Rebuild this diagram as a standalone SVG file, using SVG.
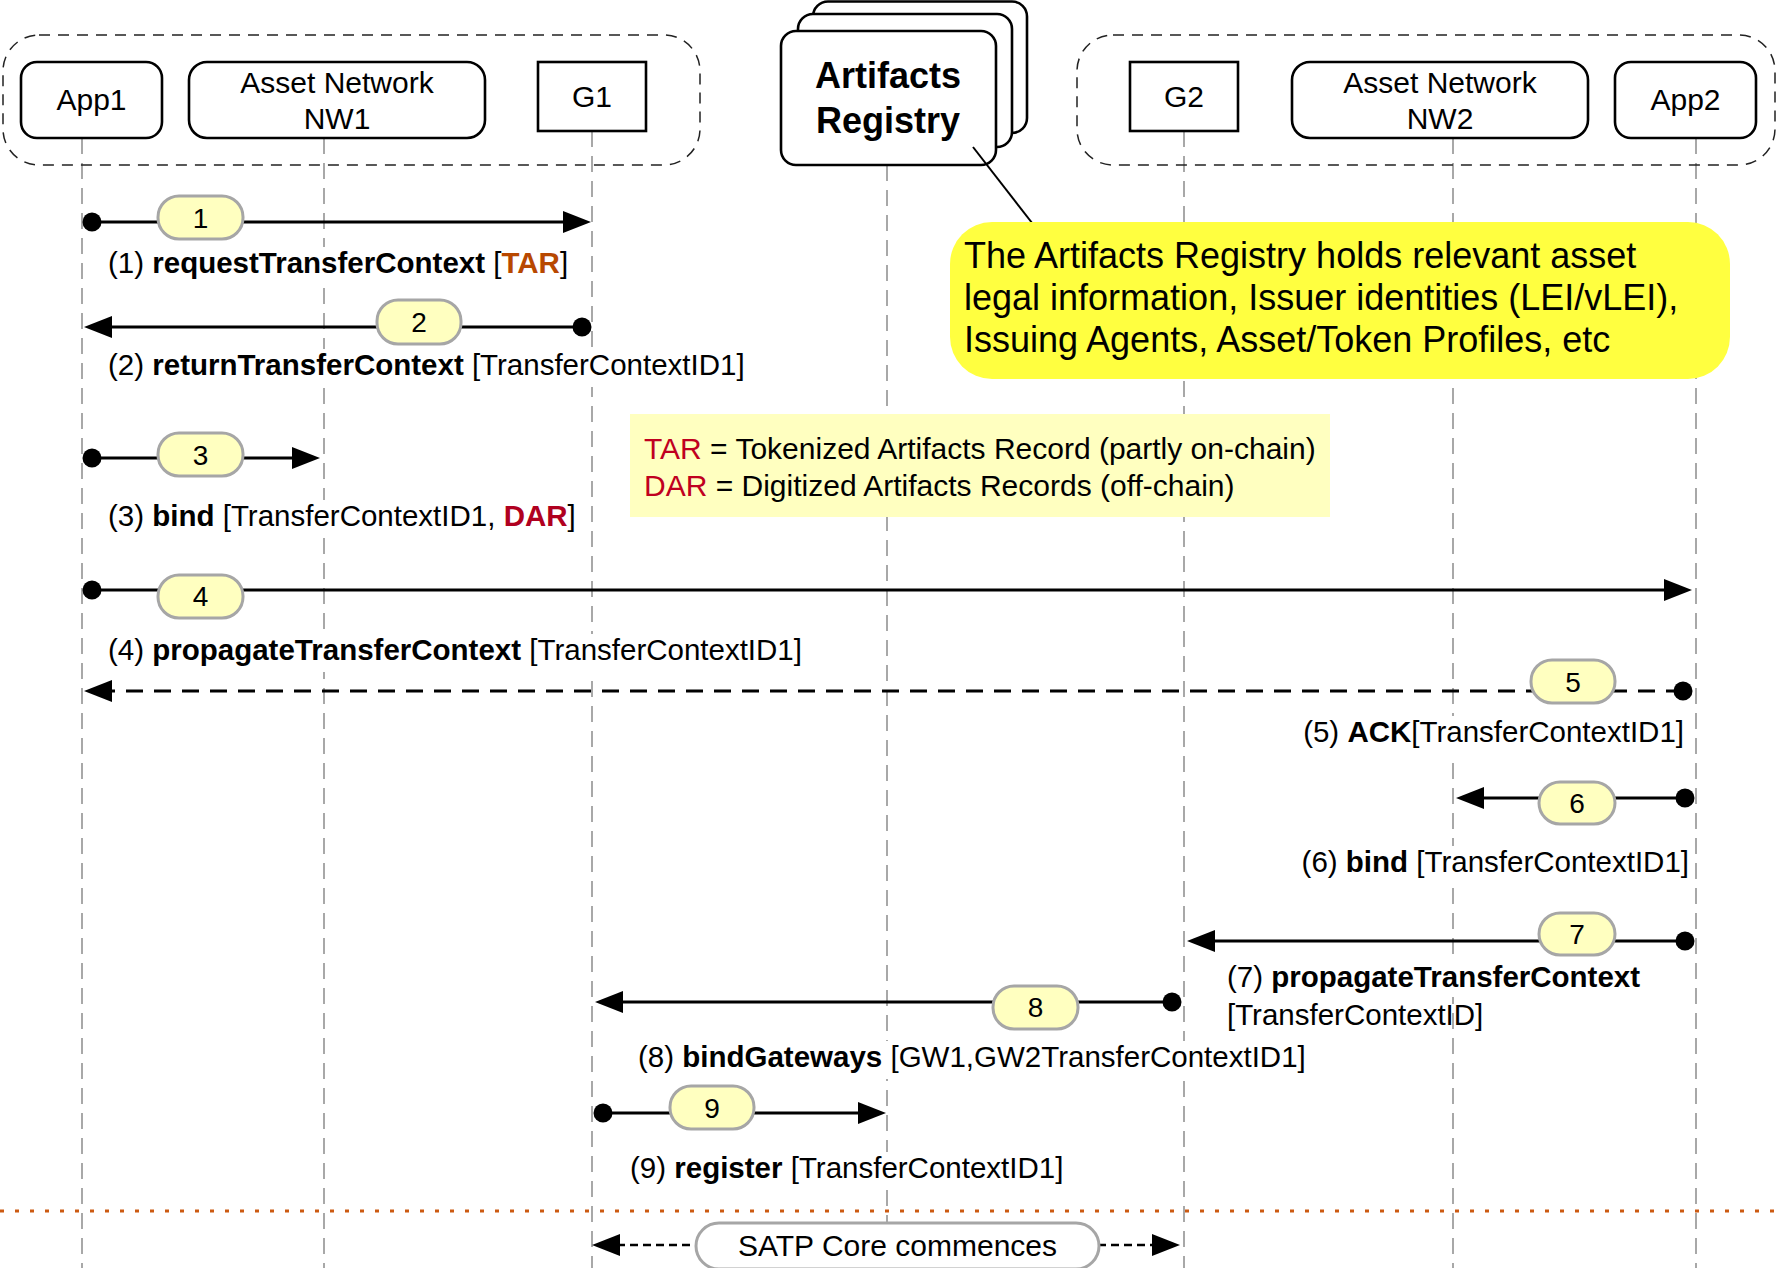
<svg xmlns="http://www.w3.org/2000/svg" width="1777" height="1268" viewBox="0 0 1777 1268">
<defs>
<style>
text{font-family:"Liberation Sans",Arial,Helvetica,sans-serif;fill:#000}
.life{stroke:#a8a8a8;stroke-width:2;stroke-dasharray:16 9;fill:none}
.grp{fill:none;stroke:#222;stroke-width:1.5;stroke-dasharray:11 8}
.node{fill:#fff;stroke:#000;stroke-width:2.6}
.nt{font-size:30px;text-anchor:middle}
.msg{stroke:#000;stroke-width:3;fill:none;marker-start:url(#dot);marker-end:url(#ah)}
.dash{stroke-dasharray:17 11}
.badge{fill:#ffffc0;stroke:#a6a6a6;stroke-width:3}
.bt{font-size:28px;text-anchor:middle}
.lbl{font-size:29.5px}
.lbg{fill:#fff}
.b{font-weight:bold}
</style>
<marker id="ah" markerUnits="userSpaceOnUse" markerWidth="30" markerHeight="24" refX="16" refY="11" orient="auto">
<path d="M0,0 L28,11 L0,22 z" fill="#000"/>
</marker>
<marker id="ah2" markerUnits="userSpaceOnUse" markerWidth="30" markerHeight="24" refX="16" refY="11" orient="auto-start-reverse">
<path d="M0,0 L28,11 L0,22 z" fill="#000"/>
</marker>
<marker id="dot" markerUnits="userSpaceOnUse" markerWidth="20" markerHeight="20" refX="10" refY="10" orient="0">
<circle cx="10" cy="10" r="9.5" fill="#000"/>
</marker>
</defs>
<rect x="0" y="0" width="1777" height="1268" fill="#fff"/>

<g id="lifelines">
<line class="life" x1="82" y1="138" x2="82" y2="1268"/>
<line class="life" x1="324" y1="138" x2="324" y2="1268"/>
<line class="life" x1="592" y1="131" x2="592" y2="1268"/>
<line class="life" x1="887" y1="165" x2="887" y2="1268"/>
<line class="life" x1="1184" y1="131" x2="1184" y2="1268"/>
<line class="life" x1="1453" y1="138" x2="1453" y2="1268"/>
<line class="life" x1="1696" y1="138" x2="1696" y2="1268"/>
</g>

<g id="groups">
<rect class="grp" x="3" y="35" width="697" height="130" rx="36"/>
<rect class="grp" x="1077" y="35" width="698" height="130" rx="36"/>
</g>

<g id="app1"><rect class="node" x="21" y="62" width="141" height="76" rx="16"/><text class="nt" x="91.5" y="110">App1</text></g>
<g id="nw1"><rect class="node" x="189" y="62" width="296" height="76" rx="18"/><text class="nt" x="337" y="93">Asset Network</text><text class="nt" x="337" y="129">NW1</text></g>
<g id="g1"><rect class="node" x="538" y="62" width="108" height="69"/><text class="nt" x="592" y="107">G1</text></g>
<g id="registry">
<rect class="node" x="813" y="1.5" width="214" height="131.5" rx="15"/>
<rect class="node" x="798" y="14" width="214" height="133" rx="15"/>
<rect class="node" x="781" y="31" width="215" height="134" rx="15"/>
<text class="b" x="888" y="88" font-size="36" text-anchor="middle">Artifacts</text>
<text class="b" x="888" y="133" font-size="36" text-anchor="middle">Registry</text>
</g>
<g id="g2"><rect class="node" x="1130" y="62" width="108" height="69"/><text class="nt" x="1184" y="107">G2</text></g>
<g id="nw2"><rect class="node" x="1292" y="62" width="296" height="76" rx="18"/><text class="nt" x="1440" y="93">Asset Network</text><text class="nt" x="1440" y="129">NW2</text></g>
<g id="app2"><rect class="node" x="1615" y="62" width="141" height="76" rx="16"/><text class="nt" x="1685.5" y="110">App2</text></g>

<g id="note">
<line x1="973" y1="147" x2="1036" y2="228" stroke="#000" stroke-width="2"/>
<rect x="950" y="222" width="780" height="157" rx="42" fill="#ffff40"/>
<text x="964" y="268" font-size="36">The Artifacts Registry holds relevant asset</text>
<text x="964" y="310" font-size="36">legal information, Issuer identities (LEI/vLEI),</text>
<text x="964" y="352" font-size="36">Issuing Agents, Asset/Token Profiles, etc</text>
</g>

<g id="legend">
<rect x="630" y="414" width="700" height="103" fill="#ffffc0"/>
<text x="644" y="459" font-size="30"><tspan fill="#c00020">TAR</tspan> = Tokenized Artifacts Record (partly on-chain)</text>
<text x="644" y="496" font-size="30"><tspan fill="#c00020">DAR</tspan> = Digitized Artifacts Records (off-chain)</text>
</g>

<g id="connectors">
<line x1="0" y1="1211" x2="1777" y2="1211" stroke="#cc5a12" stroke-width="3" stroke-dasharray="4 11"/>
<path class="msg" d="M92,222 H579"/>
<path class="msg" d="M582,327 H96"/>
<path class="msg" d="M92,458 H308"/>
<path class="msg" d="M92,590 H1680"/>
<path class="msg dash" d="M1683,691 H96"/>
<path class="msg" d="M1685,798 H1468"/>
<path class="msg" d="M1685,941 H1199"/>
<path class="msg" d="M1172,1002 H607"/>
<path class="msg" d="M603,1113 H874"/>
<path d="M604,1245 H1168" stroke="#000" stroke-width="2.5" fill="none" stroke-dasharray="8 5" marker-start="url(#ah2)" marker-end="url(#ah2)"/>
</g>

<g id="badges">
<g id="b1"><rect class="badge" x="158" y="196" width="85" height="43" rx="21"/><text class="bt" x="200.5" y="227.5">1</text></g>
<g id="b2"><rect class="badge" x="377" y="300" width="84" height="44" rx="21"/><text class="bt" x="419" y="332">2</text></g>
<g id="b3"><rect class="badge" x="158" y="433" width="85" height="43" rx="21"/><text class="bt" x="200.5" y="464.5">3</text></g>
<g id="b4"><rect class="badge" x="158" y="575" width="85" height="43" rx="21"/><text class="bt" x="200.5" y="606">4</text></g>
<g id="b5"><rect class="badge" x="1531" y="660" width="84" height="43" rx="21"/><text class="bt" x="1573" y="692">5</text></g>
<g id="b6"><rect class="badge" x="1539" y="782" width="76" height="42" rx="21"/><text class="bt" x="1577" y="813">6</text></g>
<g id="b7"><rect class="badge" x="1539" y="913" width="76" height="42" rx="21"/><text class="bt" x="1577" y="944">7</text></g>
<g id="b8"><rect class="badge" x="993" y="986" width="85" height="43" rx="21"/><text class="bt" x="1035.5" y="1017">8</text></g>
<g id="b9"><rect class="badge" x="670" y="1086" width="84" height="43" rx="21"/><text class="bt" x="712" y="1117.5">9</text></g>
</g>

<g id="labels">
<rect class="lbg" x="104" y="247" width="472" height="38"/>
<text class="lbl" x="108" y="273">(1) <tspan class="b">requestTransferContext</tspan> [<tspan class="b" fill="#b84800">TAR</tspan>]</text>
<rect class="lbg" x="104" y="349" width="653" height="38"/>
<text class="lbl" x="108" y="375">(2) <tspan class="b">returnTransferContext</tspan> [TransferContextID1]</text>
<rect class="lbg" x="104" y="500" width="477" height="38"/>
<text class="lbl" x="108" y="526">(3) <tspan class="b">bind</tspan> [TransferContextID1, <tspan class="b" fill="#b00020">DAR</tspan>]</text>
<rect class="lbg" x="104" y="634" width="714" height="38"/>
<text class="lbl" x="108" y="660">(4) <tspan class="b">propagateTransferContext</tspan> [TransferContextID1]</text>
<rect class="lbg" x="1296" y="716" width="392" height="38"/>
<text class="lbl" x="1684" y="742" text-anchor="end">(5) <tspan class="b">ACK</tspan>[TransferContextID1]</text>
<rect class="lbg" x="1296" y="846" width="397" height="38"/>
<text class="lbl" x="1689" y="872" text-anchor="end">(6) <tspan class="b">bind</tspan> [TransferContextID1]</text>
<rect class="lbg" x="1223" y="961" width="427" height="36"/>
<text class="lbl" x="1227" y="987">(7) <tspan class="b">propagateTransferContext</tspan></text>
<text class="lbl" x="1227" y="1025">[TransferContextID]</text>
<rect class="lbg" x="634" y="1041" width="682" height="38"/>
<text class="lbl" x="638" y="1067">(8) <tspan class="b">bindGateways</tspan> [GW1,GW2TransferContextID1]</text>
<rect class="lbg" x="626" y="1152" width="442" height="38"/>
<text class="lbl" x="630" y="1178">(9) <tspan class="b">register</tspan> [TransferContextID1]</text>
</g>

<g id="satp">
<rect x="696" y="1223" width="403" height="46" rx="23" fill="#fff" stroke="#a6a6a6" stroke-width="3"/>
<text x="897.5" y="1256" font-size="30" text-anchor="middle">SATP Core commences</text>
</g>
</svg>
